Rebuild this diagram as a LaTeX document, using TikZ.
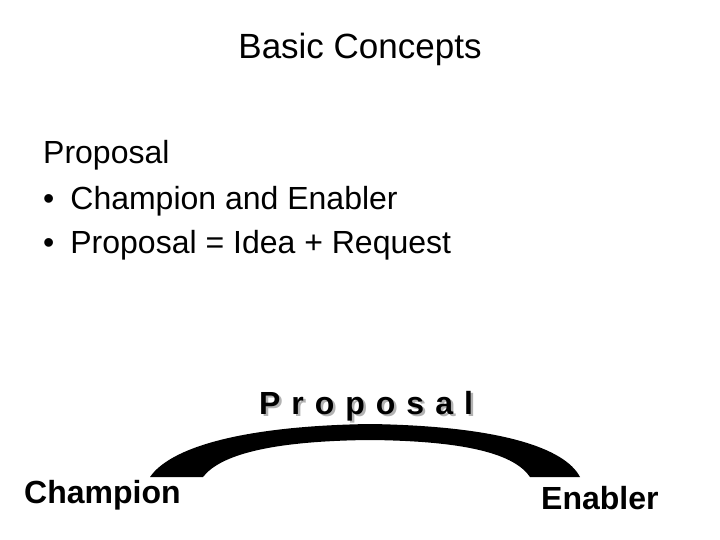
\documentclass[tikz,border=0pt]{standalone}
\usepackage{fontspec}
\setmainfont{Liberation Sans}
\begin{document}
\begin{tikzpicture}[x=1pt,y=-1pt,
  txt/.style={inner sep=0pt,anchor=base west},
  prop/.style={inner sep=0pt,anchor=base,font=\fontsize{32}{32}\selectfont\bfseries}]
\useasboundingbox (0,0) rectangle (720,540);
\node[txt,anchor=base] (title) at (360,59) {\fontsize{35}{40}\selectfont Basic Concepts};
\node[txt] (l1) at (43,164) {\fontsize{32}{38}\selectfont Proposal};
\node[txt] (l2) at (43,210) {\fontsize{32}{38}\selectfont •\hspace{16pt}Champion and Enabler};
\node[txt] (l3) at (43,254) {\fontsize{32}{38}\selectfont •\hspace{16pt}Proposal = Idea + Request};
\node[prop,text=gray!60] (ps) at (368.5,416) {P\hspace{11pt}r\hspace{11pt}o\hspace{11pt}p\hspace{11pt}o\hspace{11pt}s\hspace{11pt}a\hspace{11pt}l};
\node[prop] (p) at (366,414) {P\hspace{11pt}r\hspace{11pt}o\hspace{11pt}p\hspace{11pt}o\hspace{11pt}s\hspace{11pt}a\hspace{11pt}l};
\fill (150,477) .. controls (170,448) and (240,426) .. (370,424) .. controls (500,426) and (565,448) .. (580,477) -- (530,477) .. controls (515,455) and (470,441) .. (370,440) .. controls (270,441) and (220,455) .. (203,477) -- cycle;
\node[txt] (ch) at (24,503) {\fontsize{32}{38}\selectfont\bfseries Champion};
\node[txt] (en) at (541,509) {\fontsize{32}{38}\selectfont\bfseries Enabler};
\end{tikzpicture}
\end{document}
